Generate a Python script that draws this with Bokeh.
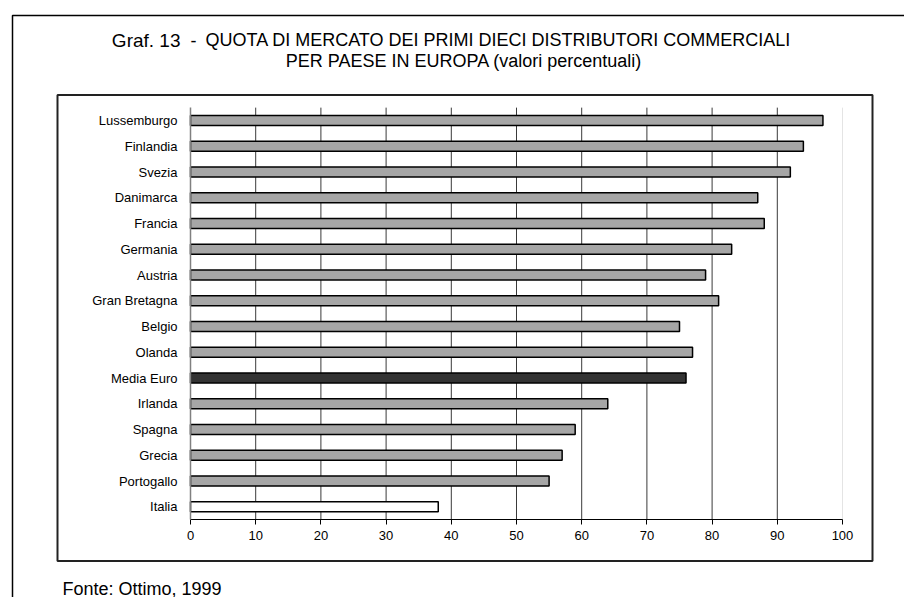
from bokeh.plotting import figure
from bokeh.models import Range1d, LinearAxis, FixedTicker, BoxAnnotation, ColumnDataSource, Label
from bokeh.embed import file_html
from bokeh.resources import INLINE

# ---------------- data ----------------
categories = ["Lussemburgo", "Finlandia", "Svezia", "Danimarca", "Francia", "Germania",
              "Austria", "Gran Bretagna", "Belgio", "Olanda", "Media Euro", "Irlanda",
              "Spagna", "Grecia", "Portogallo", "Italia"]
quota = [97, 94, 92, 87, 88, 83, 79, 81, 75, 77, 76, 64, 59, 57, 55, 38]
x_ticks = [0, 10, 20, 30, 40, 50, 60, 70, 80, 90, 100]
title_graf = "Graf. 13"
title_dash = "-"
title_line1 = "QUOTA DI MERCATO DEI PRIMI DIECI DISTRIBUTORI COMMERCIALI"
title_line2 = "PER PAESE IN EUROPA  (valori percentuali)"
source_note = "Fonte: Ottimo, 1999"
average_label = "Media Euro"
home_label = "Italia"

# ---------------- layout (pixels) ----------------
W, H = 904, 597
PX_X0, PX_X1 = 190, 842          # pixel of first / last x tick
PX_ROW_TOP, ROW_STEP = 120, 25.75  # centre of first row, row spacing

n = len(categories)
x_min, x_max = x_ticks[0], x_ticks[-1]
xpp = (x_max - x_min) / (PX_X1 - PX_X0)
xs = x_min - PX_X0 * xpp
xe = xs + W * xpp
ypp = 1.0 / ROW_STEP
ye = (n - 1) + PX_ROW_TOP * ypp
ys = ye - H * ypp


def px2x(px):
    return xs + px * xpp


def px2y(py):
    return ye - py * ypp


ypos = [n - 1 - i for i in range(n)]
colors = []
for c in categories:
    if c == average_label:
        colors.append("#333333")
    elif c == home_label:
        colors.append("#ffffff")
    else:
        colors.append("#a6a6a6")

src = ColumnDataSource(dict(y=ypos, v=quota, c=colors, cat=categories))

p = figure(width=W, height=H, x_range=Range1d(xs, xe), y_range=Range1d(ys, ye),
           output_backend="svg", toolbar_location=None, tools="",
           x_axis_location=None, y_axis_location=None, min_border=0,
           outline_line_color=None, background_fill_color="white",
           border_fill_color="white")
p.grid.visible = False

FONT = "Liberation Sans"
NARROW = "Liberation Sans Narrow, Liberation Sans"

# outer and inner frames
p.add_layout(BoxAnnotation(left=px2x(12), right=px2x(W + 30), top=px2y(15), bottom=px2y(H + 30),
                           fill_color=None, fill_alpha=0, line_color="black", line_alpha=1,
                           line_width=1.5, line_dash="solid", level="underlay"))
p.add_layout(BoxAnnotation(left=px2x(57), right=px2x(872), top=px2y(94.5), bottom=px2y(560.5),
                           fill_color=None, fill_alpha=0, line_color="#222222", line_alpha=1,
                           line_width=2, line_dash="solid", level="underlay"))

# grid lines
g_top = n - 0.5
g_bot = -0.5
inner = [t for t in x_ticks[1:-1]]
p.segment(x0=inner, x1=inner, y0=[g_bot] * len(inner), y1=[g_top] * len(inner),
          line_color="#3a3a3a", line_width=1)
p.segment(x0=[x_ticks[-1]], x1=[x_ticks[-1]], y0=[g_bot], y1=[g_top],
          line_color="#e4e4e4", line_width=1)

# bars
p.hbar(y="y", left=0, right="v", height=0.38, fill_color="c", line_color="black",
       line_width=1.5, source=src)

# axes
yaxis = LinearAxis(fixed_location=0, ticker=FixedTicker(ticks=ypos),
                   major_label_overrides={y: c for y, c in zip(ypos, categories)},
                   bounds=(-0.5, n - 0.5), axis_line_color="#808080", axis_line_width=1.5,
                   major_tick_out=0, major_tick_in=0, minor_tick_out=0, minor_tick_in=0,
                   major_tick_line_color=None, minor_tick_line_color=None,
                   major_label_standoff=13, major_label_text_font=FONT,
                   major_label_text_font_size="13px", major_label_text_color="black")
p.add_layout(yaxis, "left")

xaxis = LinearAxis(fixed_location=-0.5, ticker=FixedTicker(ticks=x_ticks),
                   bounds=(x_min, x_max), axis_line_color="black", axis_line_width=1.2,
                   major_tick_out=5, major_tick_in=0, minor_tick_out=0, minor_tick_in=0,
                   major_tick_line_color="black", minor_tick_line_color=None,
                   major_label_standoff=6, major_label_text_font=FONT,
                   major_label_text_font_size="13px", major_label_text_color="black")
p.add_layout(xaxis, "below")

# titles (Label baseline offset compensated by LBL_DY)
LBL_DY = -8
p.add_layout(Label(x=px2x(180), y=px2y(47.5 + LBL_DY), text=title_graf, text_font=NARROW,
                   text_font_size="19px", text_align="right", text_baseline="alphabetic",
                   text_color="black"))
p.add_layout(Label(x=px2x(193), y=px2y(47.5 + LBL_DY), text=title_dash, text_font=NARROW,
                   text_font_size="18px", text_align="center", text_baseline="alphabetic",
                   text_color="black"))
p.add_layout(Label(x=px2x(205), y=px2y(47.5 + LBL_DY), text=title_line1, text_font=FONT,
                   text_font_size="18px", text_align="left", text_baseline="alphabetic",
                   text_color="black"))
p.add_layout(Label(x=px2x(466), y=px2y(68 + LBL_DY), text=title_line2, text_font=FONT,
                   text_font_size="18px", text_align="center", text_baseline="alphabetic",
                   text_color="black"))
p.add_layout(Label(x=px2x(62), y=px2y(594 + LBL_DY + 2), text=source_note, text_font=FONT,
                   text_font_size="18px", text_align="left", text_baseline="alphabetic",
                   text_color="black"))

open("out.html", "w").write(file_html(p, INLINE))
